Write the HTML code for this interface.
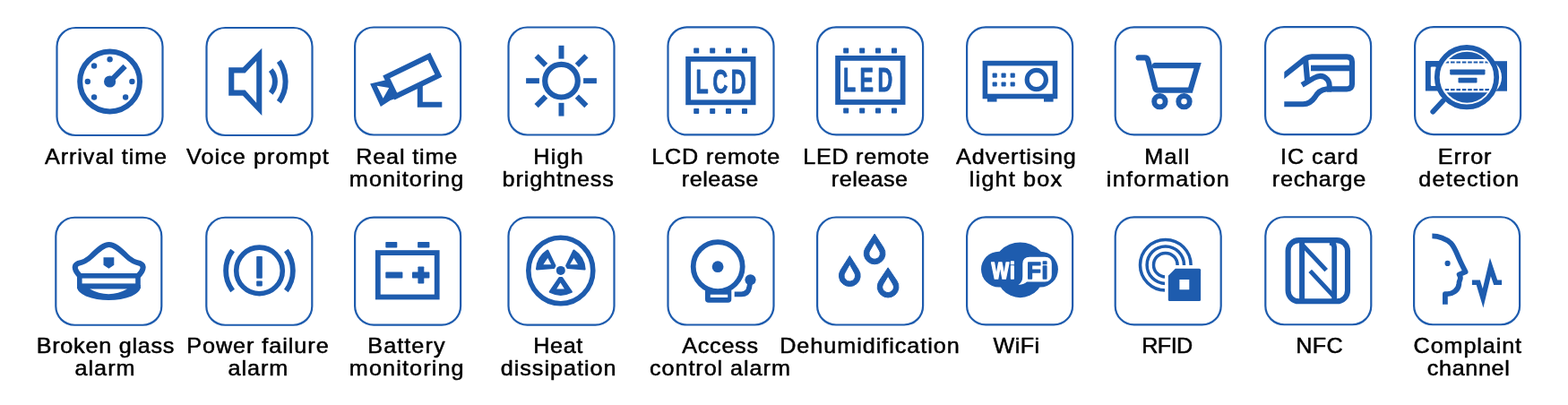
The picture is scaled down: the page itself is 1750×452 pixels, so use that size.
<!DOCTYPE html>
<html lang="en">
<head>
<meta charset="utf-8">
<title>Features</title>
<style>
html,body{margin:0;padding:0;background:#fff;}
body{width:1750px;height:452px;overflow:hidden;position:relative;}
svg{display:block;position:absolute;left:0;top:0;}
svg{will-change:transform;}.lb{font-family:"Liberation Sans",sans-serif;font-size:24.15px;fill:#000;stroke:#000;stroke-width:0.5px;stroke-linejoin:round;font-variant-ligatures:none;white-space:pre;}
</style>
</head>
<body>
<svg width="1750" height="452" viewBox="0 0 1750 452">
<rect x="63.50" y="31.00" width="118.00" height="120.00" rx="21" fill="none" stroke="#1e5cae" stroke-width="2.2"/>
<g transform="translate(62,30)"><circle cx="60.6" cy="61.0" r="33.4" fill="none" stroke="#1e5cae" stroke-width="6"/><circle cx="60.6" cy="61.0" r="6.6" fill="#1e5cae"/><line x1="60.6" y1="61.0" x2="77.6" y2="43.9" stroke="#1e5cae" stroke-width="6"/><circle cx="60.60" cy="36.20" r="3.2" fill="#1e5cae"/><circle cx="43.06" cy="43.46" r="3.2" fill="#1e5cae"/><circle cx="35.80" cy="61.00" r="3.2" fill="#1e5cae"/><circle cx="43.06" cy="78.54" r="3.2" fill="#1e5cae"/><circle cx="78.14" cy="78.54" r="3.2" fill="#1e5cae"/><circle cx="85.40" cy="61.00" r="3.2" fill="#1e5cae"/></g>
<text class="lb" transform="translate(50.00 183.0) scale(1.045 1)" style="letter-spacing:0.870px">Arrival time</text>
<rect x="230.50" y="31.00" width="118.00" height="120.00" rx="21" fill="none" stroke="#1e5cae" stroke-width="2.2"/>
<g transform="translate(229,30)"><path fill-rule="evenodd" fill="#1e5cae" d="M26.2,45.3 H42 L63.3,23.8 V99 L42,76.7 H26.2 Z M32.3,51.6 H44.6 L57.2,38 V84.8 L44.6,70.4 H32.3 Z"/><path d="M73.22,48.14 A20,20 0 0 1 73.22,73.86" fill="none" stroke="#1e5cae" stroke-width="6" /><path d="M82.35,38.35 A39,39 0 0 1 82.35,83.65" fill="none" stroke="#1e5cae" stroke-width="6" /></g>
<text class="lb" transform="translate(208.00 183.0) scale(1.045 1)" style="letter-spacing:1.004px">Voice prompt</text>
<rect x="396.10" y="30.50" width="118.00" height="120.00" rx="21" fill="none" stroke="#1e5cae" stroke-width="2.2"/>
<g transform="translate(395,30)"><g transform="translate(65.3,55.1) rotate(-26)" fill="none" stroke="#1e5cae" stroke-width="6" stroke-linejoin="miter"><rect x="-26.5" y="-12" width="53" height="24"/></g><path fill-rule="evenodd" fill="#1e5cae" d="M18.1,63.4 L35.8,59.2 L46.3,80 L40.6,82 L29.9,89 Z M25.6,65.8 L39.2,68 L32.6,79.8 Z"/><path d="M73.8,66 V86.8 H98.3" fill="none" stroke="#1e5cae" stroke-width="6"/></g>
<text class="lb" transform="translate(397.25 183.0) scale(1.045 1)" style="letter-spacing:0.772px">Real time</text>
<text class="lb" transform="translate(389.83 208.2) scale(1.045 1)" style="letter-spacing:1.023px">monitoring</text>
<rect x="567.50" y="30.50" width="118.00" height="120.00" rx="21" fill="none" stroke="#1e5cae" stroke-width="2.2"/>
<g transform="translate(566,30)"><circle cx="60.5" cy="60.2" r="18.3" fill="none" stroke="#1e5cae" stroke-width="6.2"/><line x1="85.10" y1="60.20" x2="99.90" y2="60.20" stroke="#1e5cae" stroke-width="6"/><line x1="77.89" y1="77.59" x2="88.36" y2="88.06" stroke="#1e5cae" stroke-width="6"/><line x1="60.50" y1="84.80" x2="60.50" y2="99.60" stroke="#1e5cae" stroke-width="6"/><line x1="43.11" y1="77.59" x2="32.64" y2="88.06" stroke="#1e5cae" stroke-width="6"/><line x1="35.90" y1="60.20" x2="21.10" y2="60.20" stroke="#1e5cae" stroke-width="6"/><line x1="43.11" y1="42.81" x2="32.64" y2="32.34" stroke="#1e5cae" stroke-width="6"/><line x1="60.50" y1="35.60" x2="60.50" y2="20.80" stroke="#1e5cae" stroke-width="6"/><line x1="77.89" y1="42.81" x2="88.36" y2="32.34" stroke="#1e5cae" stroke-width="6"/></g>
<text class="lb" transform="translate(595.25 183.0) scale(1.045 1)" style="letter-spacing:1.203px">High</text>
<text class="lb" transform="translate(560.48 208.2) scale(1.045 1)" style="letter-spacing:0.857px">brightness</text>
<rect x="745.50" y="30.45" width="118.00" height="120.00" rx="21" fill="none" stroke="#1e5cae" stroke-width="2.2"/>
<g transform="translate(744,30)"><rect x="24.099999999999998" y="35.9" width="72.5" height="48.400000000000006" fill="none" stroke="#1e5cae" stroke-width="5.8"/><rect x="30.200000000000003" y="23.6" width="6" height="6" rx="0.8" fill="#1e5cae"/><rect x="30.200000000000003" y="91" width="6" height="6" rx="0.8" fill="#1e5cae"/><rect x="48.2" y="23.6" width="6" height="6" rx="0.8" fill="#1e5cae"/><rect x="48.2" y="91" width="6" height="6" rx="0.8" fill="#1e5cae"/><rect x="66" y="23.6" width="6" height="6" rx="0.8" fill="#1e5cae"/><rect x="66" y="91" width="6" height="6" rx="0.8" fill="#1e5cae"/><rect x="84" y="23.6" width="6" height="6" rx="0.8" fill="#1e5cae"/><rect x="84" y="91" width="6" height="6" rx="0.8" fill="#1e5cae"/><text transform="translate(0,73.5) scale(0.62,1)" x="52.26 83.23 115.65" y="0" font-family="'Liberation Sans', sans-serif" font-weight="bold" font-size="37.4" fill="#1e5cae" stroke="#1e5cae" stroke-width="0.9" stroke-linejoin="round">LCD</text></g>
<text class="lb" transform="translate(727.25 183.0) scale(1.045 1)" style="letter-spacing:0.761px">LCD remote</text>
<text class="lb" transform="translate(760.85 208.2) scale(1.045 1)" style="letter-spacing:0.439px">release</text>
<rect x="912.10" y="30.45" width="118.00" height="120.00" rx="21" fill="none" stroke="#1e5cae" stroke-width="2.2"/>
<g transform="translate(911,30)"><rect x="24.099999999999998" y="34.9" width="72.5" height="49.10000000000001" fill="none" stroke="#1e5cae" stroke-width="5.8"/><rect x="30.200000000000003" y="23.6" width="6" height="6" rx="0.8" fill="#1e5cae"/><rect x="30.200000000000003" y="90.5" width="6" height="6" rx="0.8" fill="#1e5cae"/><rect x="48.2" y="23.6" width="6" height="6" rx="0.8" fill="#1e5cae"/><rect x="48.2" y="90.5" width="6" height="6" rx="0.8" fill="#1e5cae"/><rect x="66" y="23.6" width="6" height="6" rx="0.8" fill="#1e5cae"/><rect x="66" y="90.5" width="6" height="6" rx="0.8" fill="#1e5cae"/><rect x="84" y="23.6" width="6" height="6" rx="0.8" fill="#1e5cae"/><rect x="84" y="90.5" width="6" height="6" rx="0.8" fill="#1e5cae"/><text transform="translate(0,72.4) scale(0.62,1)" x="48.39 78.39 110.48" y="0" font-family="'Liberation Sans', sans-serif" font-weight="bold" font-size="37.4" fill="#1e5cae" stroke="#1e5cae" stroke-width="0.9" stroke-linejoin="round">LED</text></g>
<text class="lb" transform="translate(896.25 183.0) scale(1.045 1)" style="letter-spacing:0.665px">LED remote</text>
<text class="lb" transform="translate(927.85 208.2) scale(1.045 1)" style="letter-spacing:0.407px">release</text>
<rect x="1079.10" y="30.40" width="118.00" height="120.00" rx="21" fill="none" stroke="#1e5cae" stroke-width="2.2"/>
<g transform="translate(1078,30)"><rect x="21.400000000000002" y="40.599999999999994" width="78.1" height="36.9" fill="none" stroke="#1e5cae" stroke-width="5.6"/><rect x="23.9" y="79" width="10.6" height="4.6" fill="#1e5cae"/><rect x="87" y="79" width="10.6" height="4.6" fill="#1e5cae"/><circle cx="78.8" cy="59" r="10.6" fill="none" stroke="#1e5cae" stroke-width="5.2"/><rect x="29.6" y="51.6" width="5.2" height="5.2" rx="1" fill="#1e5cae"/><rect x="29.6" y="61.4" width="5.2" height="5.2" rx="1" fill="#1e5cae"/><rect x="39.5" y="51.6" width="5.2" height="5.2" rx="1" fill="#1e5cae"/><rect x="39.5" y="61.4" width="5.2" height="5.2" rx="1" fill="#1e5cae"/><rect x="49.6" y="51.6" width="5.2" height="5.2" rx="1" fill="#1e5cae"/><rect x="49.6" y="61.4" width="5.2" height="5.2" rx="1" fill="#1e5cae"/></g>
<text class="lb" transform="translate(1067.00 183.0) scale(1.045 1)" style="letter-spacing:0.867px">Advertising</text>
<text class="lb" transform="translate(1081.85 208.2) scale(1.045 1)" style="letter-spacing:1.113px">light box</text>
<rect x="1244.70" y="30.40" width="118.00" height="120.00" rx="21" fill="none" stroke="#1e5cae" stroke-width="2.2"/>
<g transform="translate(1244,30)"><path d="M26.6,34.4 H33.5 Q36.5,34.4 37.3,37.5 L45.2,68 Q45.8,70.7 48.5,70.7 H84.5 L92.6,43.2 H45" fill="none" stroke="#1e5cae" stroke-width="6.2" stroke-linecap="round" stroke-linejoin="miter"/><rect x="44.5" y="39.9" width="48" height="3" fill="#1e5cae"/><circle cx="50.4" cy="83.2" r="6.2" fill="none" stroke="#1e5cae" stroke-width="5.9"/><circle cx="77.5" cy="83.2" r="6.2" fill="none" stroke="#1e5cae" stroke-width="5.9"/></g>
<text class="lb" transform="translate(1277.24 183.0) scale(1.045 1)" style="letter-spacing:1.198px">Mall</text>
<text class="lb" transform="translate(1234.86 208.2) scale(1.045 1)" style="letter-spacing:1.163px">information</text>
<rect x="1412.10" y="30.05" width="118.00" height="120.00" rx="21" fill="none" stroke="#1e5cae" stroke-width="2.2"/>
<g transform="translate(1411,30)"><clipPath id="icc"><rect x="22.3" y="20" width="90" height="80"/></clipPath><g clip-path="url(#icc)"><path d="M17.3,58.1 L41.5,38.8 Q47.5,33.4 53,33.4 H92.2 Q98,33.4 98,39.2 V63.6 Q98,69.4 92.2,69.4 H70" fill="none" stroke="#1e5cae" stroke-width="6.2" stroke-linejoin="round"/><path d="M45.9,35 L48.2,61" fill="none" stroke="#1e5cae" stroke-width="6.2"/><rect x="52" y="42.7" width="46" height="6.6" fill="#1e5cae"/><path d="M42.1,64.9 L55.5,57 Q64,52.2 70.1,58.3 Q73.8,62.5 72.3,69" fill="none" stroke="#1e5cae" stroke-width="6" stroke-linejoin="round"/><path d="M20,86.2 H43.3 Q51.5,86 56.5,78.5 Q61.5,70.3 69,69.6 L75,69.4" fill="none" stroke="#1e5cae" stroke-width="6" stroke-linejoin="round"/></g></g>
<text class="lb" transform="translate(1429.00 183.0) scale(1.045 1)" style="letter-spacing:0.861px">IC card</text>
<text class="lb" transform="translate(1419.85 208.2) scale(1.045 1)" style="letter-spacing:0.664px">recharge</text>
<rect x="1579.10" y="30.05" width="118.00" height="120.00" rx="21" fill="none" stroke="#1e5cae" stroke-width="2.2"/>
<g transform="translate(1578,30)"><rect x="12.9" y="38" width="22" height="33.5" fill="#1e5cae"/><rect x="86" y="38.2" width="18" height="33.5" fill="#1e5cae"/><rect x="18.8" y="44.4" width="6" height="21.5" rx="1.2" fill="#fff"/><circle cx="77.2" cy="56.2" r="20.8" fill="#fff"/><circle cx="59.0" cy="56.2" r="33.2" fill="#fff" stroke="#1e5cae" stroke-width="5.8"/><clipPath id="edc"><circle cx="59.3" cy="56.2" r="28.5"/></clipPath><g clip-path="url(#edc)"><rect x="20" y="20" width="80" height="16" fill="#1e5cae"/><rect x="20" y="73.2" width="80" height="20" fill="#1e5cae"/><line x1="34.6" y1="39.5" x2="92" y2="39.5" stroke="#1e5cae" stroke-width="2.2" stroke-dasharray="4.6 1.8"/><line x1="34.6" y1="70.1" x2="92" y2="70.1" stroke="#1e5cae" stroke-width="2.2" stroke-dasharray="4.6 1.8"/></g><rect x="40.2" y="47.4" width="39.3" height="6" rx="0.8" fill="#1e5cae"/><rect x="49.5" y="56.7" width="21" height="5.9" rx="0.8" fill="#1e5cae"/><line x1="32.5" y1="82.5" x2="21.2" y2="94.7" stroke="#1e5cae" stroke-width="5.7" stroke-linecap="round"/></g>
<text class="lb" transform="translate(1604.84 183.0) scale(1.045 1)" style="letter-spacing:0.850px">Error</text>
<text class="lb" transform="translate(1583.23 208.2) scale(1.045 1)" style="letter-spacing:1.120px">detection</text>
<rect x="62.30" y="242.75" width="118.00" height="120.00" rx="21" fill="none" stroke="#1e5cae" stroke-width="2.2"/>
<g transform="translate(62,242)"><path d="M27.2,66 C22,61 19.2,54.5 25,52 C32,50.5 36,48 40,44 C48,36 54,30.9 59.7,30.9 C65.4,30.9 71.4,36 79.4,44 C83.4,48 87.4,50.5 94.4,52 C100.2,54.5 97.4,61 92.2,66" fill="none" stroke="#1e5cae" stroke-width="6" stroke-linejoin="round"/><rect x="26.8" y="65.8" width="65.2" height="11.4" fill="none" stroke="#1e5cae" stroke-width="5.6"/><path fill-rule="evenodd" fill="#1e5cae" d="M24,76 H94.8 V79.5 Q93.5,84.5 85,88.5 Q73,93 59.4,93 Q45.8,93 33.8,88.5 Q25.3,84.5 24,79.5 Z M38.2,80.6 H80 Q70,86.2 59.2,86.2 Q48.2,86.2 38.2,80.6 Z"/><path d="M53.5,45.3 H65.3 V53.8 L59.4,57.8 L53.5,53.8 Z" fill="#1e5cae"/></g>
<text class="lb" transform="translate(40.64 393.6) scale(1.045 1)" style="letter-spacing:0.692px">Broken glass</text>
<text class="lb" transform="translate(83.40 418.8) scale(1.045 1)" style="letter-spacing:0.990px">alarm</text>
<rect x="230.30" y="242.75" width="118.00" height="120.00" rx="21" fill="none" stroke="#1e5cae" stroke-width="2.2"/>
<g transform="translate(229,242)"><circle cx="60.5" cy="59.9" r="25.8" fill="none" stroke="#1e5cae" stroke-width="5.6"/><rect x="57.2" y="44" width="6.6" height="24.7" rx="0.8" fill="#1e5cae"/><rect x="57.2" y="71.6" width="6.6" height="5.8" rx="0.8" fill="#1e5cae"/><path d="M90.37,37.39 A37.4,37.4 0 0 1 90.37,82.41" fill="none" stroke="#1e5cae" stroke-width="5.8" /><path d="M30.63,82.41 A37.4,37.4 0 0 1 30.63,37.39" fill="none" stroke="#1e5cae" stroke-width="5.8" /></g>
<text class="lb" transform="translate(208.25 393.6) scale(1.045 1)" style="letter-spacing:0.893px">Power failure</text>
<text class="lb" transform="translate(254.60 418.8) scale(1.045 1)" style="letter-spacing:0.847px">alarm</text>
<rect x="396.10" y="242.60" width="118.00" height="120.00" rx="21" fill="none" stroke="#1e5cae" stroke-width="2.2"/>
<g transform="translate(395,242)"><rect x="26.799999999999997" y="40.1" width="65.89999999999999" height="49.400000000000006" fill="none" stroke="#1e5cae" stroke-width="5.8"/><rect x="35.3" y="27.9" width="13" height="6.6" rx="0.8" fill="#1e5cae"/><rect x="71.1" y="27.9" width="13.3" height="6.6" rx="0.8" fill="#1e5cae"/><rect x="35.3" y="61.6" width="19.1" height="6.9" rx="0.8" fill="#1e5cae"/><rect x="65" y="61.6" width="19.4" height="6.9" rx="0.8" fill="#1e5cae"/><rect x="71.4" y="55.5" width="6.9" height="19" rx="0.8" fill="#1e5cae"/></g>
<text class="lb" transform="translate(410.25 393.6) scale(1.045 1)" style="letter-spacing:1.014px">Battery</text>
<text class="lb" transform="translate(389.83 418.8) scale(1.045 1)" style="letter-spacing:1.065px">monitoring</text>
<rect x="567.50" y="242.60" width="118.00" height="120.00" rx="21" fill="none" stroke="#1e5cae" stroke-width="2.2"/>
<g transform="translate(566,242)"><ellipse cx="59.8" cy="60.0" rx="36" ry="36.8" fill="none" stroke="#1e5cae" stroke-width="5.6"/><circle cx="59.8" cy="59.9" r="5" fill="#1e5cae"/><path d="M61.11,68.20 L71.71,83.79 A26.7,26.7 0 0 1 47.89,83.79 L58.49,68.20 Z" fill="#1e5cae" stroke="#1e5cae" stroke-width="2.4" stroke-linejoin="round"/><path d="M51.96,56.89 L33.15,58.27 A26.7,26.7 0 0 1 45.06,37.64 L53.27,54.61 Z" fill="#1e5cae" stroke="#1e5cae" stroke-width="2.4" stroke-linejoin="round"/><path d="M66.33,54.61 L74.54,37.64 A26.7,26.7 0 0 1 86.45,58.27 L67.64,56.89 Z" fill="#1e5cae" stroke="#1e5cae" stroke-width="2.4" stroke-linejoin="round"/><path d="M45.3,46.0 L49.2,53.2 H40.4 Z" fill="#fff"/><path d="M74.4,46.0 L79.0,53.2 H70.2 Z" fill="#fff"/><path d="M59.5,73.4 L63.9,80.6 H55.2 Z" fill="#fff"/></g>
<text class="lb" transform="translate(595.25 393.6) scale(1.045 1)" style="letter-spacing:0.541px">Heat</text>
<text class="lb" transform="translate(558.63 418.8) scale(1.045 1)" style="letter-spacing:0.934px">dissipation</text>
<rect x="745.50" y="242.50" width="118.00" height="120.00" rx="21" fill="none" stroke="#1e5cae" stroke-width="2.2"/>
<g transform="translate(744,242)"><circle cx="57.2" cy="55.6" r="27.5" fill="none" stroke="#1e5cae" stroke-width="5.8"/><circle cx="57.1" cy="55.7" r="6.4" fill="#1e5cae"/><path fill-rule="evenodd" fill="#1e5cae" d="M43,82 H72.3 V92 Q72.3,95.8 68.5,95.8 H46.8 Q43,95.8 43,92 Z M48.8,86.8 H68.2 V89.9 H48.8 Z"/><path d="M75.7,86.4 H83.5 Q90.5,86.4 92.2,79 L93.4,72" fill="none" stroke="#1e5cae" stroke-width="5.8"/><circle cx="93.5" cy="70.3" r="6.1" fill="#1e5cae"/></g>
<text class="lb" transform="translate(761.30 393.6) scale(1.045 1)" style="letter-spacing:0.657px">Access</text>
<text class="lb" transform="translate(724.91 418.8) scale(1.045 1)" style="letter-spacing:0.893px">control alarm</text>
<rect x="912.10" y="242.50" width="118.00" height="120.00" rx="21" fill="none" stroke="#1e5cae" stroke-width="2.2"/>
<g transform="translate(911,242)"><path fill-rule="evenodd" d="M65.10,19.10 L75.07,34.40 A11.9,11.9 0 1 1 55.13,34.40 Z M65.10,28.50 L70.48,37.92 A6.2,6.2 0 1 1 59.72,37.92 Z" fill="#1e5cae" stroke="#1e5cae" stroke-width="1" stroke-linejoin="round"/><path fill-rule="evenodd" d="M37.30,43.50 L47.35,59.32 A11.9,11.9 0 1 1 27.25,59.32 Z M37.30,52.90 L42.74,62.82 A6.2,6.2 0 1 1 31.86,62.82 Z" fill="#1e5cae" stroke="#1e5cae" stroke-width="1" stroke-linejoin="round"/><path fill-rule="evenodd" d="M80.10,56.80 L89.97,71.45 A11.9,11.9 0 1 1 70.23,71.45 Z M80.10,66.20 L85.41,75.00 A6.2,6.2 0 1 1 74.79,75.00 Z" fill="#1e5cae" stroke="#1e5cae" stroke-width="1" stroke-linejoin="round"/></g>
<text class="lb" transform="translate(870.14 393.6) scale(1.045 1)" style="letter-spacing:0.903px">Dehumidification</text>
<rect x="1079.10" y="242.40" width="118.00" height="120.00" rx="21" fill="none" stroke="#1e5cae" stroke-width="2.2"/>
<g transform="translate(1078,242)"><rect x="17" y="38.8" width="85.9" height="39.6" rx="19.8" fill="#1e5cae"/><path d="M29.6,59.3 A31,30.9 0 0 1 91.6,59.3 Z M32.6,59.3 A28,30.9 0 0 0 88.6,59.3 Z" fill="#1e5cae"/><path d="M71.3,44.7 H88.2 Q95.8,44.7 95.8,52.3 V64.8 Q95.8,72.4 88.2,72.4 H68 Q65.5,75.3 58.6,75.9 Q63.3,73 63.3,66.5 V52.3 Q63.3,44.7 71.3,44.7 Z" fill="#fff"/><text transform="translate(0,69) scale(0.8,1)" x="35.75 61.25" y="0" font-family="'Liberation Sans', sans-serif" font-weight="bold" font-size="26" stroke-width="1.4" stroke-linejoin="round" fill="#fff" stroke="#fff">Wi</text><text transform="translate(0,69)" x="68.1 84.6" y="0" font-family="'Liberation Sans', sans-serif" font-weight="bold" font-size="26" stroke-width="1.4" stroke-linejoin="round" fill="#1e5cae" stroke="#1e5cae">Fi</text></g>
<text class="lb" transform="translate(1108.60 393.6) scale(1.045 1)" style="letter-spacing:0.319px">WiFi</text>
<rect x="1244.70" y="242.40" width="118.00" height="120.00" rx="21" fill="none" stroke="#1e5cae" stroke-width="2.2"/>
<g transform="translate(1244,242)"><circle cx="56.8" cy="53.7" r="28.3" fill="none" stroke="#1e5cae" stroke-width="3.5"/><circle cx="56.8" cy="53.7" r="20.7" fill="none" stroke="#1e5cae" stroke-width="3.5"/><circle cx="56.8" cy="53.7" r="13.3" fill="none" stroke="#1e5cae" stroke-width="3.5"/><path d="M67.8,57.7 H94.5 Q96.1,57.7 96.1,59.3 V92.4 Q96.1,94 94.5,94 H61.4 Q59.8,94 59.8,92.4 V65.7 Z" fill="#fff" stroke="#fff" stroke-width="7.6" stroke-linejoin="round"/><rect x="59.8" y="86" width="40" height="12" fill="#fff"/><rect x="88" y="57.7" width="12" height="40" fill="#fff"/><path d="M67.8,57.7 H94.5 Q96.1,57.7 96.1,59.3 V92.4 Q96.1,94 94.5,94 H61.4 Q59.8,94 59.8,92.4 V65.7 Z" fill="#1e5cae"/><rect x="72.4" y="70" width="10.9" height="11.2" rx="0.5" fill="#fff"/></g>
<text class="lb" transform="translate(1274.24 393.6) scale(1.045 1)" style="letter-spacing:-0.589px">RFID</text>
<rect x="1412.30" y="242.25" width="118.00" height="120.00" rx="21" fill="none" stroke="#1e5cae" stroke-width="2.2"/>
<g transform="translate(1411,242)"><rect x="26.6" y="26.1" width="66.4" height="68.2" rx="12" fill="none" stroke="#1e5cae" stroke-width="6.1"/><path d="M42.1,92 V29" fill="none" stroke="#1e5cae" stroke-width="6"/><path d="M78.2,92 V34 Q78.2,29 73,28.5" fill="none" stroke="#1e5cae" stroke-width="5.8"/><path d="M41,29.6 L69.2,59.6" fill="none" stroke="#1e5cae" stroke-width="5"/><path d="M51.2,60.4 L79.4,90.6" fill="none" stroke="#1e5cae" stroke-width="5"/></g>
<text class="lb" transform="translate(1446.24 393.6) scale(1.045 1)" style="letter-spacing:0.249px">NFC</text>
<rect x="1578.10" y="242.25" width="118.00" height="120.00" rx="21" fill="none" stroke="#1e5cae" stroke-width="2.2"/>
<g transform="translate(1578,242)"><path d="M20.4,21.4 C27,21.4 36,24 41.4,29.6 C45.5,34 47.5,40 50.9,47.7 C52.5,51.5 54,54.5 57.6,61.4 L50.6,64.4 Q52.6,67.5 51.5,70 Q50.2,72.5 50.3,75.5 Q49.6,80.4 45.5,83.4 Q41.5,86.2 37.5,86.2 H34.9 V97.8" fill="none" stroke="#1e5cae" stroke-width="5.8" stroke-linejoin="round"/><circle cx="37.6" cy="51.9" r="3.1" fill="#1e5cae"/><path d="M64.9,73.3 H71.8 L77.1,90.8 L85.4,56 L91.2,73.3 H98.1" fill="none" stroke="#1e5cae" stroke-width="5.6" stroke-linejoin="miter" stroke-miterlimit="10"/></g>
<text class="lb" transform="translate(1577.60 393.6) scale(1.045 1)" style="letter-spacing:0.834px">Complaint</text>
<text class="lb" transform="translate(1592.80 418.8) scale(1.045 1)" style="letter-spacing:0.573px">channel</text>
</svg>
</body>
</html>
